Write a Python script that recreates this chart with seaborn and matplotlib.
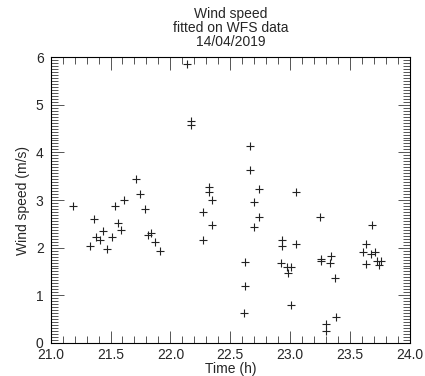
# Load libraries
import pandas as pd
import numpy as np
import matplotlib
matplotlib.use('Agg')
import matplotlib.pyplot as plt
from matplotlib.ticker import MultipleLocator
import seaborn as sns

# Wind speed values
time_h = [21.19, 21.33, 21.36, 21.38, 21.41, 21.44, 21.47, 21.51, 21.54, 21.56,
          21.59, 21.61, 21.71, 21.75, 21.79, 21.81, 21.84, 21.875, 21.91,
          22.14, 22.17, 22.17, 22.27, 22.27, 22.32, 22.32, 22.35, 22.35,
          22.61, 22.625, 22.625, 22.66, 22.66, 22.70, 22.70, 22.74, 22.74,
          22.92, 22.93, 22.93, 22.97, 22.98, 23.01, 23.01, 23.05, 23.05,
          23.25, 23.26, 23.26, 23.30, 23.30, 23.33, 23.34, 23.375, 23.38,
          23.61, 23.63, 23.63, 23.67, 23.68, 23.71, 23.72, 23.74, 23.76]
wind_speed = [2.88, 2.04, 2.61, 2.22, 2.16, 2.35, 1.98, 2.22, 2.87, 2.52,
              2.38, 3.00, 3.45, 3.13, 2.82, 2.26, 2.30, 2.12, 1.94,
              5.86, 4.65, 4.58, 2.74, 2.17, 3.27, 3.17, 3.00, 2.48,
              0.63, 1.69, 1.20, 4.14, 3.63, 2.96, 2.43, 3.23, 2.65,
              1.68, 2.17, 2.04, 1.60, 1.46, 1.60, 0.80, 3.17, 2.08,
              2.65, 1.77, 1.73, 0.40, 0.26, 1.68, 1.82, 1.36, 0.55,
              1.91, 2.08, 1.65, 1.86, 2.47, 1.91, 1.71, 1.64, 1.71]

wind = pd.DataFrame({'time': time_h, 'speed': wind_speed})

sns.set_style('ticks')
plt.rcParams['font.family'] = ['Liberation Sans', 'DejaVu Sans']
plt.rcParams['font.size'] = 10

fig = plt.figure(figsize=(4.25, 3.76), dpi=100)
ax = fig.add_axes([0.119, 0.088, 0.846, 0.760])

# Scatter of wind speed vs time with plus markers
sns.scatterplot(x='time', y='speed', data=wind, marker='+', color='#222222',
                s=30, linewidth=0.8, ax=ax)

ax.set_xlim(21.0, 24.0)
ax.set_ylim(0, 6)
ax.xaxis.set_major_locator(MultipleLocator(0.5))
ax.xaxis.set_minor_locator(MultipleLocator(0.1))
ax.yaxis.set_major_locator(MultipleLocator(1))
ax.yaxis.set_minor_locator(MultipleLocator(1 / 16))
ax.xaxis.set_major_formatter(matplotlib.ticker.FormatStrFormatter('%.1f'))

ax.tick_params(which='both', direction='in', top=True, right=True,
               color='#555555', width=0.7, labelsize=10)
ax.tick_params(which='major', length=9)
ax.tick_params(which='minor', length=4.8)
ax.tick_params(axis='x', pad=4)
ax.tick_params(axis='y', pad=5)
for spine in ax.spines.values():
    spine.set_linewidth(0.8)
    spine.set_color('black')

ax.set_xlabel('Time (h)', fontsize=10, labelpad=0)
ax.set_ylabel('Wind speed (m/s)', fontsize=10, labelpad=4)
ax.set_title('Wind speed\nfitted on WFS data\n14/04/2019', fontsize=10,
             linespacing=1.0, pad=8)

fig.savefig('out.png', dpi=100)
